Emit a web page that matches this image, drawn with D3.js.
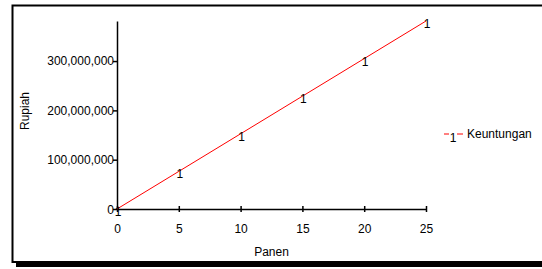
<!DOCTYPE html>
<html>
<head>
<meta charset="utf-8">
<script src="https://cdn.jsdelivr.net/npm/d3@7"></script>
<style>
  body { margin: 0; background: #fff; }
  text { font-family: "Liberation Sans", Arial, sans-serif; }
</style>
</head>
<body>
<div id="myChart"></div>
<script>
// data
const panen = [0, 5, 10, 15, 20, 25];
const keuntungan = [0, 76250000, 152500000, 228750000, 305000000, 381250000];
const xTicks = [0, 5, 10, 15, 20, 25];
const yTicks = [0, 100000000, 200000000, 300000000];
const seriesName = "Keuntungan";

const W = 542, H = 269;
const margin = { top: 21, right: 116, bottom: 60, left: 117 },
  width = W - margin.left - margin.right,
  height = H - margin.top - margin.bottom;

const root = d3.select("#myChart").append("svg")
  .attr("width", W).attr("height", H);

// frame + shadow
root.append("rect").attr("x", 16).attr("y", 262).attr("width", W).attr("height", 5).attr("fill", "#000");
root.append("rect").attr("x", 12.5).attr("y", 5.5).attr("width", W).attr("height", 256.5)
  .attr("fill", "#fff").attr("stroke", "#000").attr("stroke-width", 2);

const svg = root.append("g")
  .attr("transform", "translate(" + margin.left + "," + margin.top + ")");

const x = d3.scaleLinear().domain([0, 25]).range([0, width]);
const y = d3.scaleLinear().domain([0, d3.max(keuntungan)]).range([height, 0]);

// x axis
const gx = svg.append("g")
  .attr("transform", "translate(0," + height + ")")
  .call(d3.axisBottom(x).tickValues(xTicks).tickSize(4).tickSizeOuter(0));
gx.selectAll(".tick line").attr("y1", -3).attr("y2", 3);
gx.selectAll("text").attr("dy", "0").attr("y", 24).style("font-size", "12px").attr("fill", "#000");

// y axis
const gy = svg.append("g")
  .call(d3.axisLeft(y).tickValues(yTicks).tickFormat(d3.format(",")).tickSize(4).tickSizeOuter(0));
gy.selectAll(".tick line").attr("x1", -4).attr("x2", 1);
gy.selectAll("text").attr("x", -3).style("font-size", "12px").attr("fill", "#000");
gy.select(".tick text").attr("dy", "0.4em");
gx.selectAll(".domain, .tick line").attr("stroke-width", 1.5);
gy.selectAll(".domain, .tick line").attr("stroke-width", 1.5);

// axis titles
svg.append("text").attr("x", x(12.5)).attr("y", height + 47)
  .attr("text-anchor", "middle").style("font-size", "12px").text("Panen");
svg.append("text").attr("transform", "rotate(-90)")
  .attr("x", -90).attr("y", -88)
  .attr("text-anchor", "middle").style("font-size", "12px").text("Rupiah");

// line
const data = panen.map((p, i) => ({ p: p, v: keuntungan[i] }));
svg.append("path").datum(data)
  .attr("fill", "none").attr("stroke", "#ff0000").attr("stroke-width", 1)
  .attr("d", d3.line().x(d => x(d.p)).y(d => y(d.v)));

// markers "1"
svg.selectAll(".mk").data(data).enter().append("text")
  .attr("class", "mk")
  .attr("x", d => x(d.p) + 1).attr("y", d => y(d.v) + 7)
  .attr("text-anchor", "middle").style("font-size", "12px").text("1");

// legend
const lg = root.append("g").attr("transform", "translate(444,134)");
lg.append("line").attr("x1", 0).attr("x2", 5).attr("stroke", "#ff0000");
lg.append("line").attr("x1", 13).attr("x2", 19).attr("stroke", "#ff0000");
lg.append("text").attr("x", 9).attr("y", 8).attr("text-anchor", "middle")
  .style("font-size", "12px").text("1");
lg.append("text").attr("x", 23).attr("y", 4).style("font-size", "12px").text(seriesName);
</script>
</body>
</html>
